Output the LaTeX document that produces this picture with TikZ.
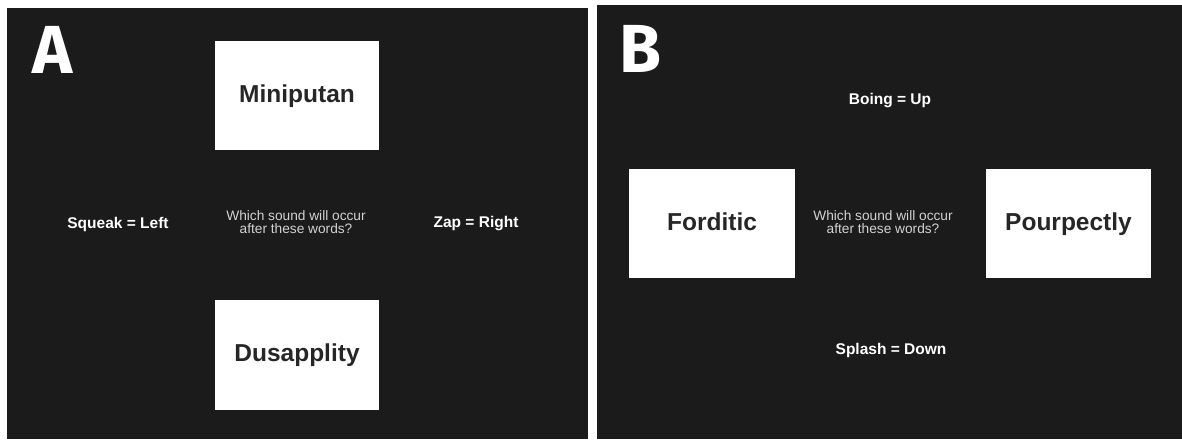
\documentclass[tikz,border=0pt]{standalone}
\usepackage{fontspec}
\setmainfont{Liberation Sans}
\newfontfamily\letterfont{Fira Sans}
\definecolor{panelbg}{HTML}{1B1B1B}
\definecolor{qgray}{HTML}{D2D2D2}
\begin{document}
\begin{tikzpicture}[x=1pt,y=-1pt,
  panel/.style={fill=panelbg,draw=none},
  wordbox/.style={fill=white,draw=none,inner sep=0pt,text height=18pt,text depth=5pt,font=\fontsize{24.5}{28}\selectfont\bfseries,text=black!85},
  rule/.style={text=white,font=\fontsize{15.5}{18}\selectfont\bfseries,inner sep=0pt},
  question/.style={text=qgray,font=\fontsize{13.7}{12.5}\selectfont,align=center,inner sep=0pt},
  letter/.style={text=white,font=\letterfont\fontsize{68}{68}\selectfont\bfseries,inner sep=0pt}]
\useasboundingbox (0,0) rectangle (1182,439);
\fill[white] (0,0) rectangle (1182,439);
% panels
\path[panel] (7,8) rectangle (588,439);
\path[panel] (597,5) rectangle (1182,439);
% panel A
\node[letter,anchor=base] (lA) at (52.5,73) {A};
\node[wordbox,minimum width=164pt,minimum height=109pt] (mini) at (297,95.5) {Miniputan};
\node[wordbox,minimum width=164pt,minimum height=110pt] (dusa) at (297,355) {Dusapplity};
\node[rule] (squeak) at (118,224) {Squeak = Left};
\node[rule] (zap) at (476,224) {Zap = Right};
\node[question] (qA) at (296,222) {Which sound will occur\\after these words?};
% panel B
\node[letter,anchor=base] (lB) at (640,72) {B};
\node[rule] (boing) at (890,101) {Boing = Up};
\node[rule] (splash) at (891,350) {Splash = Down};
\node[wordbox,minimum width=166pt,minimum height=109pt] (ford) at (712,223.5) {Forditic};
\node[wordbox,minimum width=165pt,minimum height=109pt] (pour) at (1068.5,223.5) {Pourpectly};
\node[question] (qB) at (883,222) {Which sound will occur\\after these words?};
\end{tikzpicture}
\end{document}
